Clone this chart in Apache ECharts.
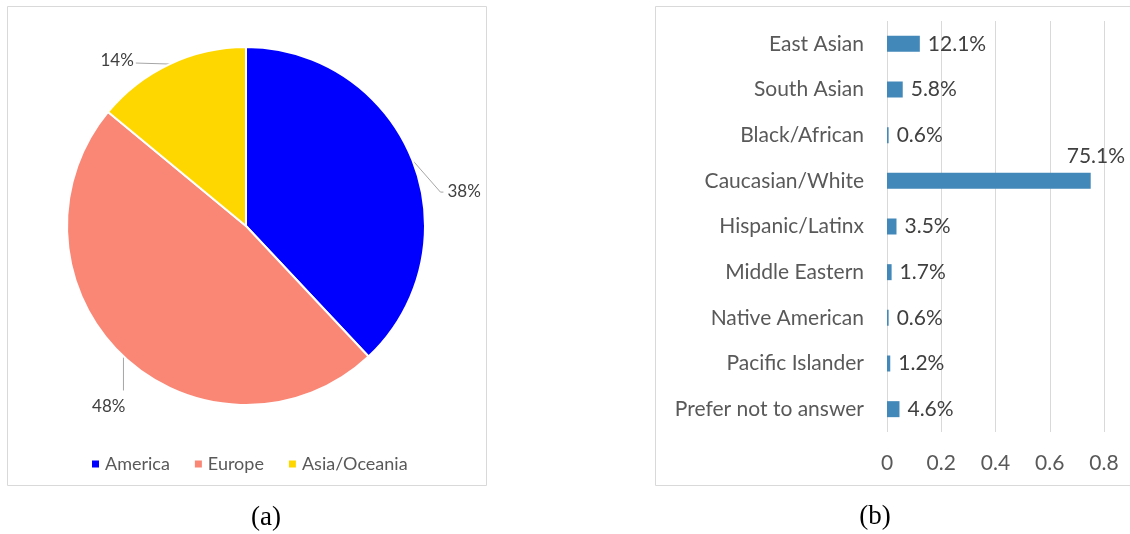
<!DOCTYPE html>
<html>
<head>
<meta charset="utf-8">
<script src="https://cdn.jsdelivr.net/npm/echarts@6/dist/echarts.min.js"></script>
<style>
  html, body { margin: 0; padding: 0; background: #fff; }
  #chart { width: 1130px; height: 534px; }
</style>
</head>
<body>
<div id="chart"></div>
<script>
// (a) region shares
var regions = ['America', 'Europe', 'Asia/Oceania'];
var regionShares = [38, 48, 14];
var regionColors = ['#0000ff', '#fa8776', '#ffd700'];

// (b) ethnicity shares
var groups = ['East Asian', 'South Asian', 'Black/African', 'Caucasian/White', 'Hispanic/Latinx',
    'Middle Eastern', 'Native American', 'Pacific Islander', 'Prefer not to answer'];
var groupShares = [0.121, 0.058, 0.006, 0.751, 0.035, 0.017, 0.006, 0.012, 0.046];
var xTicks = [0, 0.2, 0.4, 0.6, 0.8];

// where each pie label sits relative to its slice edge point
var pieLabelOffsets = [
    { line: [[28, 32], [31, 32]], text: [35, 31], align: 'left' },
    { line: [[0, 34]], text: [2, 50], align: 'right' },
    { line: [[-34, -1]], text: [-36, -4], align: 'right' }
];

var chart = echarts.init(document.getElementById('chart'));

var pieData = regions.map(function (name, i) {
    return { name: name, value: regionShares[i], itemStyle: { color: regionColors[i] } };
});

option = {
    animation: false,
    textStyle: { fontFamily: 'Lato' },
    graphic: [
        { type: 'rect', shape: { x: 7.5, y: 6.5, width: 479, height: 479 },
          style: { fill: 'none', stroke: '#d9d9d9', lineWidth: 1 } },
        { type: 'rect', shape: { x: 655.5, y: 6.5, width: 500, height: 479 },
          style: { fill: 'none', stroke: '#d9d9d9', lineWidth: 1 } },
        { type: 'text', x: 266, y: 518,
          style: { text: '(a)', font: '27px "Liberation Serif"', fill: '#000', align: 'center', verticalAlign: 'middle' } },
        { type: 'text', x: 875, y: 517,
          style: { text: '(b)', font: '27px "Liberation Serif"', fill: '#000', align: 'center', verticalAlign: 'middle' } }
    ],
    legend: {
        data: regions,
        left: 85,
        top: 450,
        itemWidth: 9,
        itemHeight: 9,
        itemGap: 23,
        icon: 'rect',
        textStyle: { color: '#595959', fontSize: 18 }
    },
    grid: {
        left: 887,
        right: 26,
        top: 21,
        bottom: 102
    },
    xAxis: {
        type: 'value',
        min: xTicks[0],
        max: xTicks[xTicks.length - 1],
        interval: 0.2,
        axisLine: { show: false },
        axisTick: { show: false },
        splitLine: { lineStyle: { color: '#d9d9d9' } },
        axisLabel: { color: '#595959', fontSize: 21, margin: 21 }
    },
    yAxis: {
        type: 'category',
        data: groups,
        inverse: true,
        axisLine: { show: false },
        axisTick: { show: false },
        axisLabel: { color: '#595959', fontSize: 21, margin: 23 }
    },
    series: [
        {
            type: 'pie',
            center: [246, 226],
            radius: 179,
            startAngle: 90,
            data: pieData,
            itemStyle: { borderColor: '#fff', borderWidth: 2 },
            label: {
                formatter: '{d}%',
                color: '#404040',
                fontSize: 17
            },
            labelLine: {
                show: true,
                length: 10,
                length2: 10,
                lineStyle: { color: '#a6a6a6', width: 1 }
            },
            labelLayout: function (params) {
                var o = pieLabelOffsets[params.dataIndex];
                var e = params.labelLinePoints[0];
                var pts = [[e[0], e[1]]];
                o.line.forEach(function (d) { pts.push([e[0] + d[0], e[1] + d[1]]); });
                return {
                    x: e[0] + o.text[0],
                    y: e[1] + o.text[1],
                    align: o.align,
                    verticalAlign: 'middle',
                    labelLinePoints: pts
                };
            }
        },
        {
            type: 'bar',
            name: 'Share',
            data: groupShares,
            barWidth: 16,
            itemStyle: { color: '#4288b8' },
            label: {
                show: true,
                position: 'right',
                distance: 8,
                color: '#404040',
                fontSize: 21,
                formatter: function (p) { return (p.value * 100).toFixed(1) + '%'; }
            },
            labelLayout: function (params) {
                // the big bar's label is lifted above its end
                if (groupShares[params.dataIndex] > 0.5) {
                    return { dx: -32, dy: -25 };
                }
                return {};
            }
        }
    ]
};
chart.setOption(option);
</script>
</body>
</html>
